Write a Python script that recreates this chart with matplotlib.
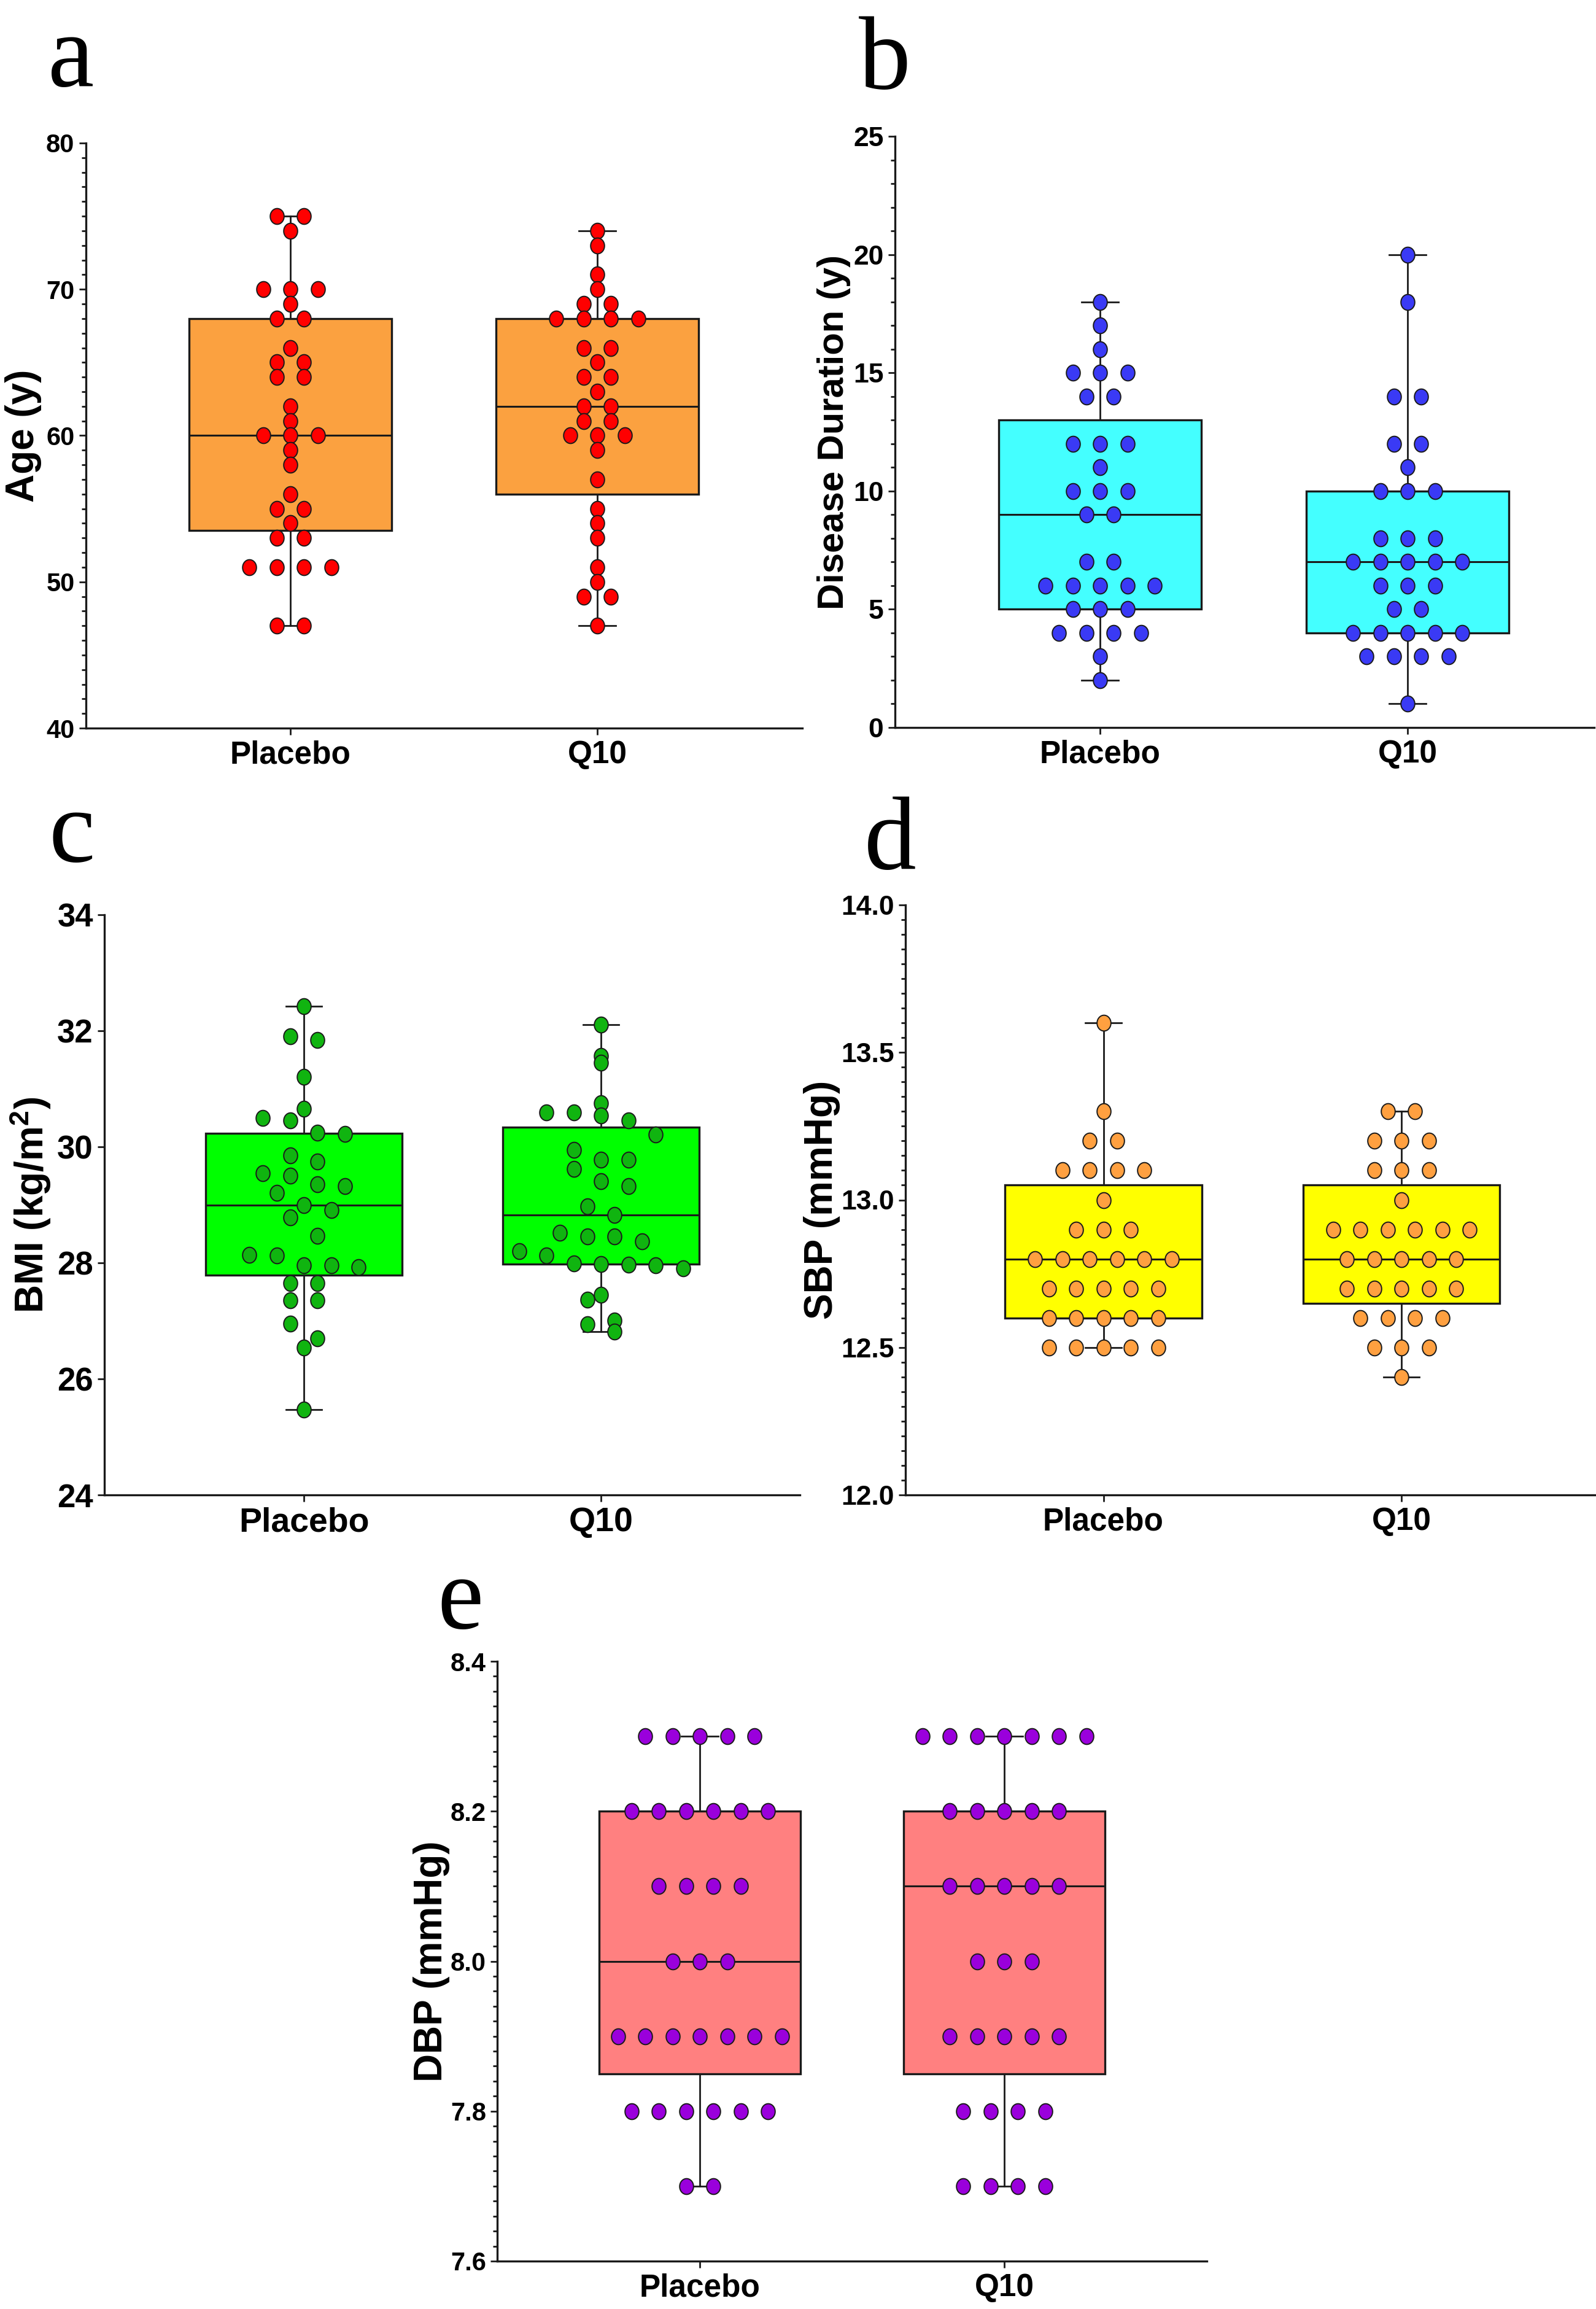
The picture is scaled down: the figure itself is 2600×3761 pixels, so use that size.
import numpy as np
import matplotlib
matplotlib.use('Agg')
import matplotlib.pyplot as plt
from matplotlib.path import Path
from matplotlib.ticker import MultipleLocator, FormatStrFormatter

plt.rcParams['font.family'] = ['Liberation Sans', 'DejaVu Sans']
plt.rcParams['font.weight'] = 'bold'
plt.rcParams['mathtext.fontset'] = 'custom'
plt.rcParams['mathtext.rm'] = 'Liberation Sans:bold'
plt.rcParams['mathtext.it'] = 'Liberation Sans:bold'
plt.rcParams['mathtext.bf'] = 'Liberation Sans:bold'

# data
groups = ['Placebo', 'Q10']

age_placebo = [75, 75, 74, 70, 70, 70, 69, 68, 68, 66, 65, 65, 64, 64, 62, 61, 60,
               60, 60, 59, 58, 56, 55, 55, 54, 53, 53, 51, 51, 51, 51, 47, 47]
age_q10 = [74, 73, 71, 70, 69, 69, 68, 68, 68, 68, 66, 66, 65, 64, 64, 63, 62,
           62, 61, 61, 60, 60, 60, 59, 57, 55, 54, 53, 51, 50, 49, 49, 47]

dur_placebo = [18, 17, 16, 15, 15, 15, 14, 14, 12, 12, 12, 11, 10, 10, 10, 9, 9,
               7, 7, 6, 6, 6, 6, 6, 5, 5, 5, 4, 4, 4, 4, 3, 2]
dur_q10 = [20, 18, 14, 14, 12, 12, 11, 10, 10, 10, 8, 8, 8, 7, 7, 7, 7, 7,
           6, 6, 6, 5, 5, 4, 4, 4, 4, 4, 3, 3, 3, 3, 1]

bmi_placebo = [32.42, 31.91, 31.84, 31.21, 30.66, 30.50, 30.45, 30.24, 30.22, 29.85,
               29.75, 29.54, 29.50, 29.35, 29.32, 29.21, 29.00, 28.91, 28.78, 28.47,
               28.14, 28.13, 27.96, 27.93, 27.96, 27.65, 27.65, 27.35, 27.35, 26.95,
               26.70, 26.54, 25.47]
bmi_q10 = [32.11, 31.57, 31.45, 30.75, 30.54, 30.59, 30.59, 30.46, 30.21, 29.95,
           29.78, 29.78, 29.62, 29.41, 29.32, 28.97, 28.83, 28.52, 28.45, 28.45,
           28.37, 28.20, 28.13, 27.96, 27.98, 27.91, 27.97, 27.99, 27.45, 27.36,
           27.01, 26.94, 26.81]

sbp_placebo = [13.6, 13.3, 13.2, 13.2, 13.1, 13.1, 13.1, 13.1, 13.0,
               12.9, 12.9, 12.9, 12.8, 12.8, 12.8, 12.8, 12.8, 12.8,
               12.7, 12.7, 12.7, 12.7, 12.7, 12.6, 12.6, 12.6, 12.6, 12.6,
               12.5, 12.5, 12.5, 12.5, 12.5]
sbp_q10 = [13.3, 13.3, 13.2, 13.2, 13.2, 13.1, 13.1, 13.1, 13.0,
           12.9, 12.9, 12.9, 12.9, 12.9, 12.9, 12.8, 12.8, 12.8, 12.8, 12.8,
           12.7, 12.7, 12.7, 12.7, 12.7, 12.6, 12.6, 12.6, 12.6,
           12.5, 12.5, 12.5, 12.4]

dbp_placebo = [8.3, 8.3, 8.3, 8.3, 8.3, 8.2, 8.2, 8.2, 8.2, 8.2, 8.2,
               8.1, 8.1, 8.1, 8.1, 8.0, 8.0, 8.0,
               7.9, 7.9, 7.9, 7.9, 7.9, 7.9, 7.9,
               7.8, 7.8, 7.8, 7.8, 7.8, 7.8, 7.7, 7.7]
dbp_q10 = [8.3, 8.3, 8.3, 8.3, 8.3, 8.3, 8.3, 8.2, 8.2, 8.2, 8.2, 8.2,
           8.1, 8.1, 8.1, 8.1, 8.1, 8.0, 8.0, 8.0,
           7.9, 7.9, 7.9, 7.9, 7.9, 7.8, 7.8, 7.8, 7.8,
           7.7, 7.7, 7.7, 7.7]

W, H = 2600, 3761
fig = plt.figure(figsize=(W / 100, H / 100), dpi=100)

# slightly tall ellipse, like the squashed dots of the original
t = np.linspace(0, 2 * np.pi, 80)
dot = Path(np.column_stack([0.88 * np.cos(t), np.sin(t)]), closed=True)


def row_offsets(vals, step, h=None):
    # points in the same row are spread out symmetrically around the centre
    v = np.asarray(vals, float)
    if h is None:
        rows = np.round(v, 6)
    else:
        rows = np.floor(v / h + 1e-9)
    offs = np.zeros(len(v))
    for r in np.unique(rows):
        idx = np.where(rows == r)[0]
        idx = idx[np.argsort(-v[idx], kind='stable')]
        offs[idx] = (np.arange(len(idx)) - (len(idx) - 1) / 2) * step
    return offs


def stats(vals):
    q1, med, q3 = np.percentile(vals, [25, 50, 75], method='weibull')
    return dict(med=med, q1=q1, q3=q3, whislo=min(vals), whishi=max(vals), fliers=[])


panels = [
    dict(data=(age_placebo, age_q10), letter='a', ylabel='Age (y)',
         box='#FBA140', dotc='#FF0000', ylim=(40, 80), major=10, minor=1, fmt='%d',
         rect=(139.5, 1307, 233, 1186), cx=(473, 973), lab_x=38, letter_xy=(78, 140),
         tick_fs=30, xfs=37, lab_fs=46, row_h=None),
    dict(data=(dur_placebo, dur_q10), letter='b', ylabel='Disease Duration (y)',
         box='#44FFFF', dotc='#3A3AF5', ylim=(0, 25), major=5, minor=1, fmt='%d',
         rect=(1457.5, 2597, 222, 1185), cx=(1792, 2293), lab_x=1358, letter_xy=(1399, 144),
         tick_fs=32, xfs=37, lab_fs=43, row_h=None),
    dict(data=(bmi_placebo, bmi_q10), letter='c', ylabel=r'BMI (kg/m$^{2}$)',
         box='#00FF00', dotc='#10B410', ylim=(24, 34), major=2, minor=None, fmt='%d',
         rect=(170, 1303, 1490, 2435), cx=(495, 979), lab_x=50, letter_xy=(79, 1403),
         tick_fs=38, xfs=40, lab_fs=46, row_h=0.45),
    dict(data=(sbp_placebo, sbp_q10), letter='d', ylabel='SBP (mmHg)',
         box='#FFFF00', dotc='#FFA040', ylim=(12, 14), major=0.5, minor=0.05, fmt='%.1f',
         rect=(1474.5, 2598, 1474, 2435), cx=(1797.5, 2283), lab_x=1339, letter_xy=(1408, 1415),
         tick_fs=32, xfs=37, lab_fs=46, row_h=None),
    dict(data=(dbp_placebo, dbp_q10), letter='e', ylabel='DBP (mmHg)',
         box='#FF8080', dotc='#9A00DC', ylim=(7.6, 8.4), major=0.2, minor=0.02, fmt='%.1f',
         rect=(810, 1966, 2706, 3683), cx=(1140, 1636), lab_x=703, letter_xy=(712, 2652),
         tick_fs=30, xfs=37, lab_fs=46, row_h=None),
]

edge = '#1a1a1a'
for p in panels:
    x0, x1, yt, yb = p['rect']
    ax = fig.add_axes([x0 / W, 1 - yb / H, (x1 - x0) / W, (yb - yt) / H])
    unit = p['cx'][1] - p['cx'][0]
    ax.set_xlim(-(p['cx'][0] - x0) / unit, 1 + (x1 - p['cx'][1]) / unit)
    ax.set_ylim(*p['ylim'])
    step = 44.5 / unit

    ax.bxp([stats(d) for d in p['data']], positions=[0, 1], manage_ticks=False,
           widths=0.66, capwidths=0.12, patch_artist=True, showfliers=False,
           boxprops=dict(facecolor=p['box'], edgecolor=edge, linewidth=2.4),
           whiskerprops=dict(color=edge, linewidth=2.0),
           capprops=dict(color=edge, linewidth=2.0),
           medianprops=dict(color=edge, linewidth=2.2), zorder=2)

    for i, d in enumerate(p['data']):
        offs = row_offsets(d, step, p['row_h'])
        ax.plot(i + offs, d, ls='none', marker=dot, ms=18.5, mfc=p['dotc'],
                mec=edge, mew=1.4, zorder=3, clip_on=False)

    for s in ['top', 'right']:
        ax.spines[s].set_visible(False)
    for s in ['left', 'bottom']:
        ax.spines[s].set_linewidth(2.4)
        ax.spines[s].set_color(edge)

    ax.yaxis.set_major_locator(MultipleLocator(p['major']))
    ax.yaxis.set_major_formatter(FormatStrFormatter(p['fmt']))
    if p['minor']:
        ax.yaxis.set_minor_locator(MultipleLocator(p['minor']))
    ax.tick_params(axis='y', which='major', length=8, width=2, labelsize=p['tick_fs'],
                   pad=5, color=edge)
    ax.tick_params(axis='y', which='minor', length=5, width=2, color=edge)
    ax.set_xticks([0, 1])
    ax.set_xticklabels(groups)
    ax.tick_params(axis='x', length=8, width=2, labelsize=p['xfs'], pad=6, color=edge)
    for lab in ax.get_yticklabels() + ax.get_xticklabels():
        lab.set_fontweight('bold')

    ax.set_ylabel(p['ylabel'], fontsize=p['lab_fs'], fontweight='bold')
    ax.yaxis.set_label_coords((p['lab_x'] - x0) / (x1 - x0), 0.5)
    ax.yaxis.label.set_va('center')

    lx, ly = p['letter_xy']
    fig.text(lx / W, 1 - ly / H, p['letter'], family=['Liberation Serif', 'DejaVu Serif'],
             fontweight='normal', fontsize=122, ha='left', va='baseline')

fig.savefig('out.png', dpi=100)
